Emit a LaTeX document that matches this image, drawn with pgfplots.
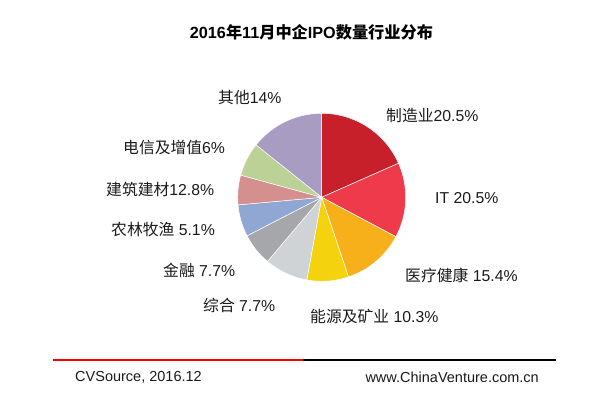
\documentclass[border=0pt]{standalone}
\usepackage{pgfplots}
\usepackage{pgfplotstable}
\pgfplotsset{compat=1.18}
\usepackage{fontspec}
\setmainfont{Liberation Sans}
\newfontfamily\cjk{Noto Sans CJK SC}
\definecolor{cZZ}{HTML}{C8202B}
\definecolor{cIT}{HTML}{EE3A4A}
\definecolor{cYL}{HTML}{F7B019}
\definecolor{cNY}{HTML}{F5D20E}
\definecolor{cZH}{HTML}{CFD3D6}
\definecolor{cJR}{HTML}{A5A7AA}
\definecolor{cNL}{HTML}{8FA7D2}
\definecolor{cJZ}{HTML}{D68F8F}
\definecolor{cDX}{HTML}{BBD196}
\definecolor{cQT}{HTML}{A99CC3}
\definecolor{txt}{HTML}{1A1A1A}

% slice shares (percent of the pie, as drawn), clockwise from 12 o'clock
\pgfplotstableread[col sep=comma]{
name,value,color
制造业,18.36,cZZ
IT,14.42,cIT
医疗健康,12.06,cYL
能源及矿业,8.00,cNY
综合,8.33,cZH
金融,6.25,cJR
农林牧渔,6.14,cNL
建筑建材,5.69,cJZ
电信及增值,6.47,cDX
其他,14.28,cQT
}\piedata

\begin{document}
\begin{tikzpicture}
\useasboundingbox (0,0) rectangle (610pt,393pt);
\begin{axis}[
  at={(0,0)}, anchor=south west,
  x=1pt, y=1pt, scale only axis,
  xmin=-321.7, xmax=288.3, ymin=-195.7, ymax=197.3,
  hide axis, clip=false,
]
\pgfplotstablegetrowsof{\piedata}
\pgfmathtruncatemacro{\N}{\pgfplotsretval-1}
\def\cum{0}
\pgfplotsforeachungrouped \i in {0,...,\N}{%
  \pgfplotstablegetelem{\i}{value}\of\piedata
  \let\v\pgfplotsretval
  \pgfplotstablegetelem{\i}{color}\of\piedata
  \let\c\pgfplotsretval
  \pgfmathsetmacro{\a}{90-3.6*\cum}%
  \pgfmathsetmacro{\b}{90-3.6*(\cum+\v)}%
  \edef\temp{\noexpand\fill[\c, draw=white, line width=0.5pt] (axis cs:0,0) -- (axis cs:{84*cos(\a)},{84*sin(\a)}) arc[start angle=\a, end angle=\b, radius=84pt] -- cycle;}%
  \temp
  \pgfmathsetmacro{\cum}{\cum+\v}%
}
% title
\node[font=\bfseries\fontsize{16.2}{19}\selectfont, text=black] at (axis cs:-10.2,165.3) {2016{\cjk\bfseries 年}11{\cjk\bfseries 月中企}IPO{\cjk\bfseries 数量行业分布}};
% labels (text, x = left edge, y = middle)
\begin{scope}[every node/.style={anchor=west, inner sep=0pt, text=txt, font=\fontsize{15.8}{18}\selectfont}]
\node at (axis cs:64.3,82.3) {{\cjk 制造业}20.5\%};
\node at (axis cs:113.3,-0.7) {IT 20.5\%};
\node at (axis cs:83.3,-77.7) {{\cjk 医疗健康} 15.4\%};
\node at (axis cs:-11.7,-118.7) {{\cjk 能源及矿业} 10.3\%};
\node at (axis cs:-118.7,-107.7) {{\cjk 综合} 7.7\%};
\node at (axis cs:-158.7,-72.7) {{\cjk 金融} 7.7\%};
\node at (axis cs:-210.7,-32.7) {{\cjk 农林牧渔} 5.1\%};
\node at (axis cs:-215.7,8.3) {{\cjk 建筑建材}12.8\%};
\node at (axis cs:-198.7,49.3) {{\cjk 电信及增值}6\%};
\node at (axis cs:-103.7,100.3) {{\cjk 其他}14\%};
\end{scope}
% footer
\draw[red, line width=1.4pt] (axis cs:-268.7,-162.7) -- (axis cs:-18.7,-162.7);
\draw[black, line width=1.4pt] (axis cs:-18.7,-162.7) -- (axis cs:234.3,-162.7);
\node[anchor=west, inner sep=0pt, text=txt, font=\fontsize{14.5}{17}\selectfont] at (axis cs:-246.7,-179.7) {CVSource, 2016.12};
\node[anchor=east, inner sep=0pt, text=txt, font=\fontsize{14.5}{17}\selectfont] at (axis cs:217.3,-179.7) {www.ChinaVenture.com.cn};
\end{axis}
\end{tikzpicture}
\end{document}
